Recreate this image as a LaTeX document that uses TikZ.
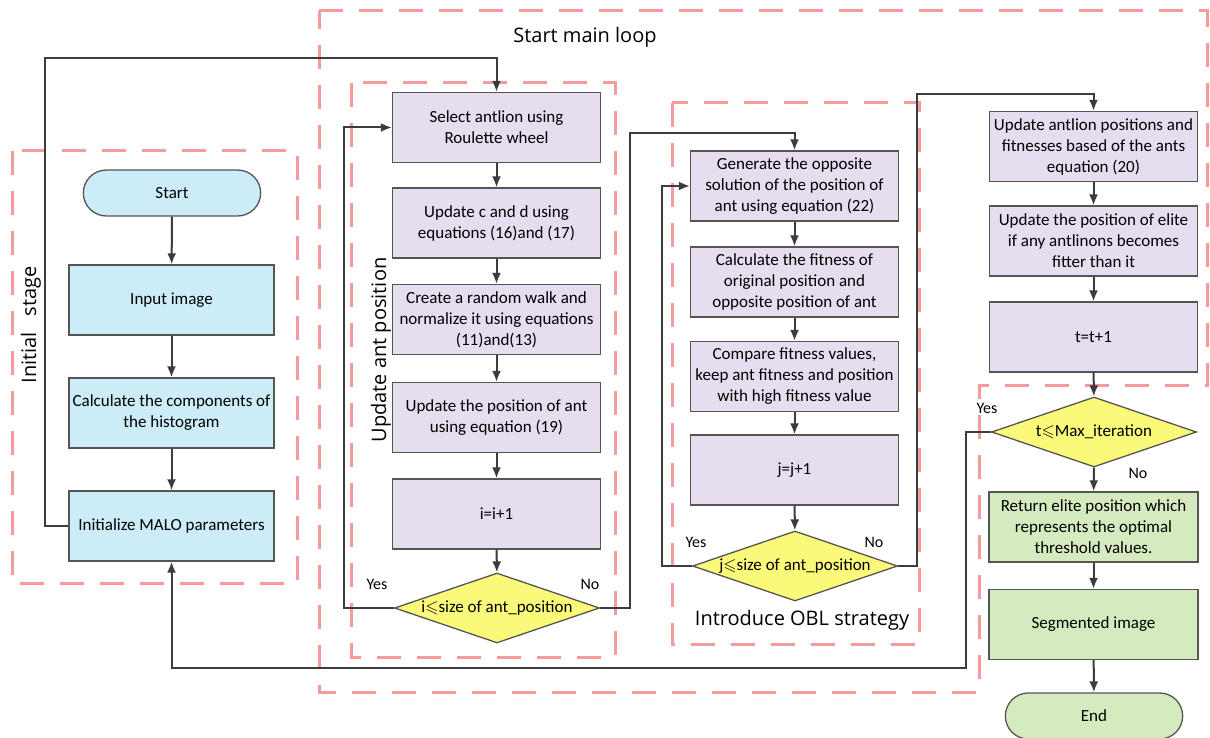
\documentclass[tikz,border=0pt]{standalone}
\usepackage{amssymb}
\usepackage{fontspec}
\setmainfont{Carlito}
\newfontfamily\regionfont{Open Sans}
\usetikzlibrary{shapes,arrows.meta,positioning}
\pgfdeclarelayer{background}
\pgfsetlayers{background,main}
\definecolor{bluefill}{RGB}{204,237,248}
\definecolor{purplefill}{RGB}{230,221,239}
\definecolor{yellowfill}{RGB}{250,249,122}
\definecolor{greenfill}{RGB}{213,235,191}
\definecolor{edgegray}{RGB}{85,85,85}
\definecolor{arrowgray}{RGB}{60,60,60}
\definecolor{pinkdash}{RGB}{245,155,155}
\tikzstyle{blueblock}=[rectangle, draw=edgegray, fill=bluefill, align=center, line width=1.3pt, minimum width=205pt, minimum height=70pt, inner sep=2pt]
\tikzstyle{purpleblock}=[rectangle, draw=edgegray, fill=purplefill, align=center, line width=1.3pt, minimum width=208pt, minimum height=70pt, inner sep=2pt]
\tikzstyle{greenblock}=[rectangle, draw=edgegray, fill=greenfill, align=center, line width=1.3pt, minimum width=209pt, minimum height=70pt, inner sep=2pt]
\tikzstyle{yellowdiamond}=[diamond, draw=edgegray, fill=yellowfill, align=center, line width=1.3pt, minimum width=205pt, minimum height=70pt, inner sep=0pt, aspect=3]
\tikzstyle{terminal}=[rounded rectangle, draw=edgegray, line width=1.3pt, minimum width=184pt, minimum height=46pt]
\tikzstyle{flow}=[->, line width=2pt, draw=arrowgray]
\tikzstyle{regionline}=[draw=pinkdash, line width=3pt, dash pattern=on 24pt off 16pt]
\tikzstyle{regionlabel}=[font=\regionfont\fontsize{20}{24}\selectfont]
\tikzstyle{answer}=[font=\fontsize{16}{19}\selectfont]
\newcommand{\regionbox}[2]{
 \begin{pgfonlayer}{background}
  \path[regionline] #1 rectangle #2;
 \end{pgfonlayer}}

\begin{document}
\begin{tikzpicture}[x=1pt, y=-1pt, every node/.style={font=\fontsize{17}{21}\selectfont}, >={Latex[length=11pt,width=9pt]}]
\useasboundingbox (0,0) rectangle (1210,738);

% initial stage
\node[terminal, fill=bluefill] (start) at (172,193) {Start};
\node[blueblock] (input) at (171.5,300) {Input image};
\node[blueblock] (hist) at (171.5,413) {Calculate the components of\\the histogram};
\node[blueblock] (init) at (171.5,526) {Initialize MALO parameters};

% update ant position
\node[purpleblock] (sel) at (496.5,127.5) {Select antlion using\\Roulette wheel};
\node[purpleblock] (cd) at (496.5,223) {Update c and d using\\equations (16)and (17)};
\node[purpleblock] (walk) at (496.5,319.5) {Create a random walk and\\normalize it using equations\\(11)and(13)};
\node[purpleblock] (antpos) at (496.5,417.5) {Update the position of ant\\using equation (19)};
\node[purpleblock] (iinc) at (496.5,514) {i=i+1};
\node[yellowdiamond] (icheck) at (497,608) {i$\leqslant$size of ant\_position};

% OBL strategy
\node[purpleblock] (opp) at (794.5,186) {Generate the opposite\\solution of the position of\\ant using equation (22)};
\node[purpleblock] (fit) at (794.5,282) {Calculate the fitness of\\original position and\\opposite position of ant};
\node[purpleblock] (cmp) at (794.5,376.5) {Compare fitness values,\\keep ant fitness and position\\with high fitness value};
\node[purpleblock] (jinc) at (794.5,470) {j=j+1};
\node[yellowdiamond] (jcheck) at (795,566) {j$\leqslant$size of ant\_position};

% antlions and output
\node[purpleblock] (lion) at (1093.5,146.5) {Update antlion positions and\\fitnesses based of the ants\\equation (20)};
\node[purpleblock] (elite) at (1093.5,241) {Update the position of elite\\if any antlinons becomes\\fitter than it};
\node[purpleblock] (tinc) at (1093.5,337) {t=t+1};
\node[yellowdiamond] (tcheck) at (1094,432) {t$\leqslant$Max\_iteration};
\node[greenblock] (ret) at (1093.5,527) {Return elite position which\\represents the optimal\\threshold values.};
\node[greenblock] (seg) at (1093.5,624.5) {Segmented image};
\node[terminal, fill=greenfill] (end) at (1094,716) {End};

\node[regionlabel] (mainlbl) at (585,37) {Start main loop};
\node[regionlabel, rotate=90] (initlbl) at (31,325) {Initial\hspace{16pt}stage};
\node[regionlabel, rotate=90] (antlbl) at (381,350) {Update ant position};
\node[regionlabel] (obllbl) at (802,620) {Introduce OBL strategy};

\node[answer] (iyes) at (377,584) {Yes};
\node[answer] (ino) at (590,584) {No};
\node[answer] (jyes) at (696,542) {Yes};
\node[answer] (jno) at (874,542) {No};
\node[answer] (tyes) at (987,408) {Yes};
\node[answer] (tno) at (1138,473) {No};

\regionbox{(12,151)}{(297,583)}
\regionbox{(351,83)}{(615,657)}
\regionbox{(672,103)}{(919,644)}
\begin{pgfonlayer}{background}
 \path[regionline] (319,11) -- (1207,11) -- (1207,385) -- (979,385) -- (979,692) -- (319,692) -- cycle;
\end{pgfonlayer}

\coordinate (loopin) at (45,58);

\draw[flow] (start) -- (input);
\draw[flow] (input) -- (hist);
\draw[flow] (hist) -- (init);
\draw[flow] (init.west) -| (loopin) -| (sel.north);
\draw[flow] (sel) -- (cd);
\draw[flow] (cd) -- (walk);
\draw[flow] (walk) -- (antpos);
\draw[flow] (antpos) -- (iinc);
\draw[flow] (iinc) -- (icheck);
\draw[flow] (icheck.west) -- ++(-50,0) |- (sel.west);
\draw[flow] (icheck.east) -- ++(30,0) -- ++(0,-475) -| (opp.north);
\draw[flow] (opp) -- (fit);
\draw[flow] (fit) -- (cmp);
\draw[flow] (cmp) -- (jinc);
\draw[flow] (jinc) -- (jcheck);
\draw[flow] (jcheck.west) -- ++(-30,0) |- (opp.west);
\draw[flow] (jcheck.east) -- ++(19,0) -- ++(0,-472) -| (lion.north);
\draw[flow] (lion) -- (elite);
\draw[flow] (elite) -- (tinc);
\draw[flow] (tinc) -- (tcheck);
\draw[flow] (tcheck) -- (ret);
\draw[flow] (ret) -- (seg);
\draw[flow] (seg) -- (end);
\draw[flow] (tcheck.west) -- ++(-25,0) -- ++(0,236) -| (init.south);

\end{tikzpicture}
\end{document}
